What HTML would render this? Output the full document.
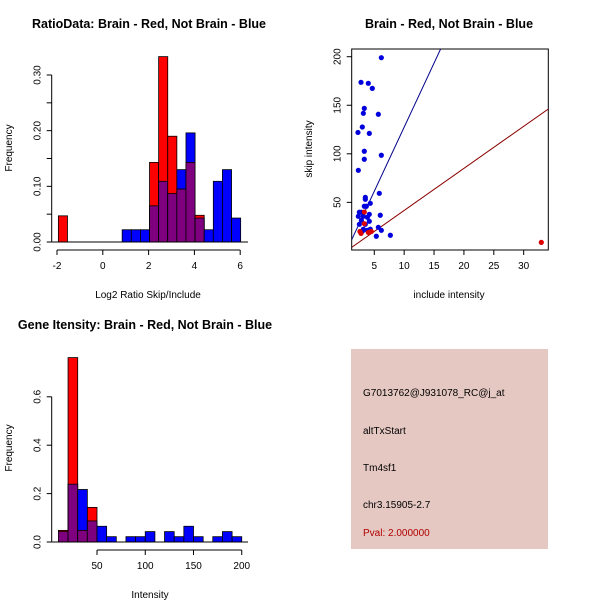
<!DOCTYPE html>
<html><head><meta charset="utf-8"><style>
body{margin:0;background:#fff}
svg{display:block;font-family:"Liberation Sans",sans-serif}
</style></head><body>
<svg id="s" width="600" height="600" viewBox="0 0 600 600" xmlns="http://www.w3.org/2000/svg">
<rect width="600" height="600" fill="#fff"/>
<text x="149" y="28" text-anchor="middle" font-size="12.5" font-weight="bold">RatioData: Brain - Red, Not Brain - Blue</text>
<text x="449" y="28" text-anchor="middle" font-size="12.5" font-weight="bold">Brain - Red, Not Brain - Blue</text>
<text x="145" y="329" text-anchor="middle" font-size="12.5" font-weight="bold">Gene Itensity: Brain - Red, Not Brain - Blue</text>
<text x="148" y="298" text-anchor="middle" font-size="10">Log2 Ratio Skip/Include</text>
<text x="12" y="148" text-anchor="middle" font-size="10" transform="rotate(-90 12 148)">Frequency</text>
<text x="449" y="298" text-anchor="middle" font-size="10">include intensity</text>
<text x="312" y="149" text-anchor="middle" font-size="10" transform="rotate(-90 312 149)">skip intensity</text>
<text x="150" y="598" text-anchor="middle" font-size="10">Intensity</text>
<text x="12" y="448" text-anchor="middle" font-size="10" transform="rotate(-90 12 448)">Frequency</text>
<g>
<rect x="351" y="349" width="197" height="200" fill="#e5c8c2"/>
<text x="363" y="396" font-size="10">G7013762@J931078_RC@j_at</text>
<text x="363" y="434" font-size="10">altTxStart</text>
<text x="363" y="471" font-size="10">Tm4sf1</text>
<text x="363" y="508" font-size="10">chr3.15905-2.7</text>
<text x="363" y="536" font-size="10" fill="#b00000">Pval: 2.000000</text>
</g>
</svg>
<script>
// Ratio histogram data
const ratioRed=[0.047,0,0,0,0,0,0,0,0,0,0.143,0.333,0.19,0.095,0.143,0.048,0,0,0,0];
const ratioBlue=[0,0,0,0,0,0,0,0.022,0.022,0.022,0.065,0.109,0.087,0.13,0.196,0.043,0.022,0.109,0.13,0.043];
const ratioYTicks=[0,0.05,0.1,0.15,0.2,0.25,0.3];
const ratioYLabels=["0.00","","0.10","","0.20","","0.30"];
const ratioXTicks=[-2,0,2,4,6];
// Intensity histogram data
const intRed=[0.048,0.762,0.048,0.143,0,0,0,0,0,0,0,0,0,0,0,0,0,0,0];
const intBlue=[0.043,0.239,0.217,0.087,0.065,0.022,0,0.022,0.022,0.043,0,0.043,0.022,0.065,0.022,0,0.022,0.043,0.022];
const intYTicks=[0,0.2,0.4,0.6];
const intYLabels=["0.0","0.2","0.4","0.6"];
const intXTicks=[50,100,150,200];
// Scatter data
const blueX=[6.18,2.78,4.0,4.67,3.33,3.17,5.68,3.0,2.27,4.17,3.33,3.33,6.18,2.33,5.84,3.5,3.5,4.33,3.33,3.67,2.5,2.84,4.17,6.0,2.33,3.17,3.84,2.84,4.17,2.5,3.5,5.68,3.17,4.33,6.18,3.84,3.0,7.69,5.34];
const blueY=[199,173.6,172.6,167.4,146.8,141.7,140.7,127.6,122,121,102.6,94.4,98.5,83,59.3,55.2,53.2,49,46,46,39.8,39.8,37.7,36.7,35.6,35.6,34.6,31.5,30.5,27.4,27.4,24.3,22.3,22.3,21.2,21.2,20.2,16.1,15.1];
const redX=[2.6,2.78,4.0,3.33,3.33,4.5,32.95];
const redY=[20,18,19,40,28,20,8.8];
const blueLine=[13.2,-4.6]; // slope, intercept
const redLine=[4.33,-1.6];
const scXTicks=[5,10,15,20,25,30];
const scYTicks=[50,100,150,200];

const NS="http://www.w3.org/2000/svg";
const svg=document.getElementById('s');
function mk(t,a,p){const e=document.createElementNS(NS,t);for(const k in a)e.setAttribute(k,a[k]);(p||svg).appendChild(e);return e;}

function hist(red,blue,x0,bw,sx,sy,yTicks,yLabels,xTicks,xLabels,yAxisX,xAxisY,baseL,baseR,name){
  const g=mk('g',{});
  
  
  for(let i=0;i<red.length;i++){
    const l=sx(x0+i*bw),r=sx(x0+(i+1)*bw);
    const b=blue[i],rd=red[i];
    if(b>0){const e=mk('rect',{x:l,y:sy(b),width:r-l,height:sy(0)-sy(b),fill:'#0000ff',stroke:'#000','stroke-width':0.8},g);
      
      }
    if(rd>0){const e=mk('rect',{x:l,y:sy(rd),width:r-l,height:sy(0)-sy(rd),fill:'#ff0000',stroke:'#000','stroke-width':0.8},g);
      
      }
    if(b>0&&rd>0){const m=Math.min(b,rd);const e=mk('rect',{x:l,y:sy(m),width:r-l,height:sy(0)-sy(m),fill:'#7f007f',stroke:'#000','stroke-width':0.8},g);
      
      }
  }
  mk('line',{x1:baseL,x2:baseR,y1:sy(0),y2:sy(0),stroke:'#000'},g);
  mk('line',{x1:yAxisX,x2:yAxisX,y1:sy(yTicks[0]),y2:sy(yTicks[yTicks.length-1]),stroke:'#000'},g);
  yTicks.forEach((t,i)=>{const y=sy(t);mk('line',{x1:yAxisX-5,x2:yAxisX,y1:y,y2:y,stroke:'#000'},g);
    if(yLabels[i]){const tx=mk('text',{x:yAxisX-11,y:y,'font-size':10,'text-anchor':'middle',transform:`rotate(-90 ${yAxisX-11} ${y})`},g);tx.textContent=yLabels[i];}});
  mk('line',{x1:sx(xTicks[0]),x2:sx(xTicks[xTicks.length-1]),y1:xAxisY,y2:xAxisY,stroke:'#000'},g);
  xTicks.forEach((t,i)=>{const x=sx(t);mk('line',{x1:x,x2:x,y1:xAxisY,y2:xAxisY+5,stroke:'#000'},g);
    const tx=mk('text',{x:x,y:xAxisY+19,'font-size':10,'text-anchor':'middle'},g);tx.textContent=xLabels[i];});
}
hist(ratioRed,ratioBlue,-1.94,0.398,v=>57+(v+2)*22.9,v=>242-v*556.7,ratioYTicks,ratioYLabels,ratioXTicks,ratioXTicks.map(String),51.7,250,51.7,248,'ratio-histogram');
hist(intRed,intBlue,10,10,v=>97+(v-50)*0.965,v=>542-v*242,intYTicks,intYLabels,intXTicks,intXTicks.map(String),51.7,550,51.7,248,'intensity-histogram');

const L=351.7,R=548.3,T=49,B=250;
const px=v=>344.4+v*5.976, py=v=>250.9-v*0.971;
const sg=mk('g',{});


mk('clipPath',{id:'cp'},sg).appendChild(document.createElementNS(NS,'rect'));
const cr=sg.querySelector('#cp rect');cr.setAttribute('x',L);cr.setAttribute('y',T);cr.setAttribute('width',R-L);cr.setAttribute('height',B-T);
const box=mk('rect',{x:L,y:T,width:R-L,height:B-T,fill:'none',stroke:'#000'},sg);


function ln(sl,ic,col,nm){const x1=(L-344.4)/5.976,x2=(R-344.4)/5.976;
  const e=mk('line',{x1:px(x1),y1:py(sl*x1+ic),x2:px(x2),y2:py(sl*x2+ic),stroke:col,'clip-path':'url(#cp)'},sg);
  
  }
ln(blueLine[0],blueLine[1],'#00008b','blue-fit-line');
ln(redLine[0],redLine[1],'#8b0000','red-fit-line');
blueX.forEach((x,i)=>{const c=mk('circle',{cx:px(x),cy:py(blueY[i]),r:2.6,fill:'#0000dd'},sg);
  
  });
redX.forEach((x,i)=>{const c=mk('circle',{cx:px(x),cy:py(redY[i]),r:2.6,fill:'#dd0000'},sg);
  
  });
scXTicks.forEach(t=>{const x=px(t);mk('line',{x1:x,x2:x,y1:B,y2:B+5,stroke:'#000'},sg);
  const tx=mk('text',{x:x,y:B+19,'font-size':10,'text-anchor':'middle'},sg);tx.textContent=t;});
scYTicks.forEach(t=>{const y=py(t);mk('line',{x1:L-5,x2:L,y1:y,y2:y,stroke:'#000'},sg);
  const tx=mk('text',{x:L-11,y:y,'font-size':10,'text-anchor':'middle',transform:`rotate(-90 ${L-11} ${y})`},sg);tx.textContent=t;});
</script>
</body></html>
